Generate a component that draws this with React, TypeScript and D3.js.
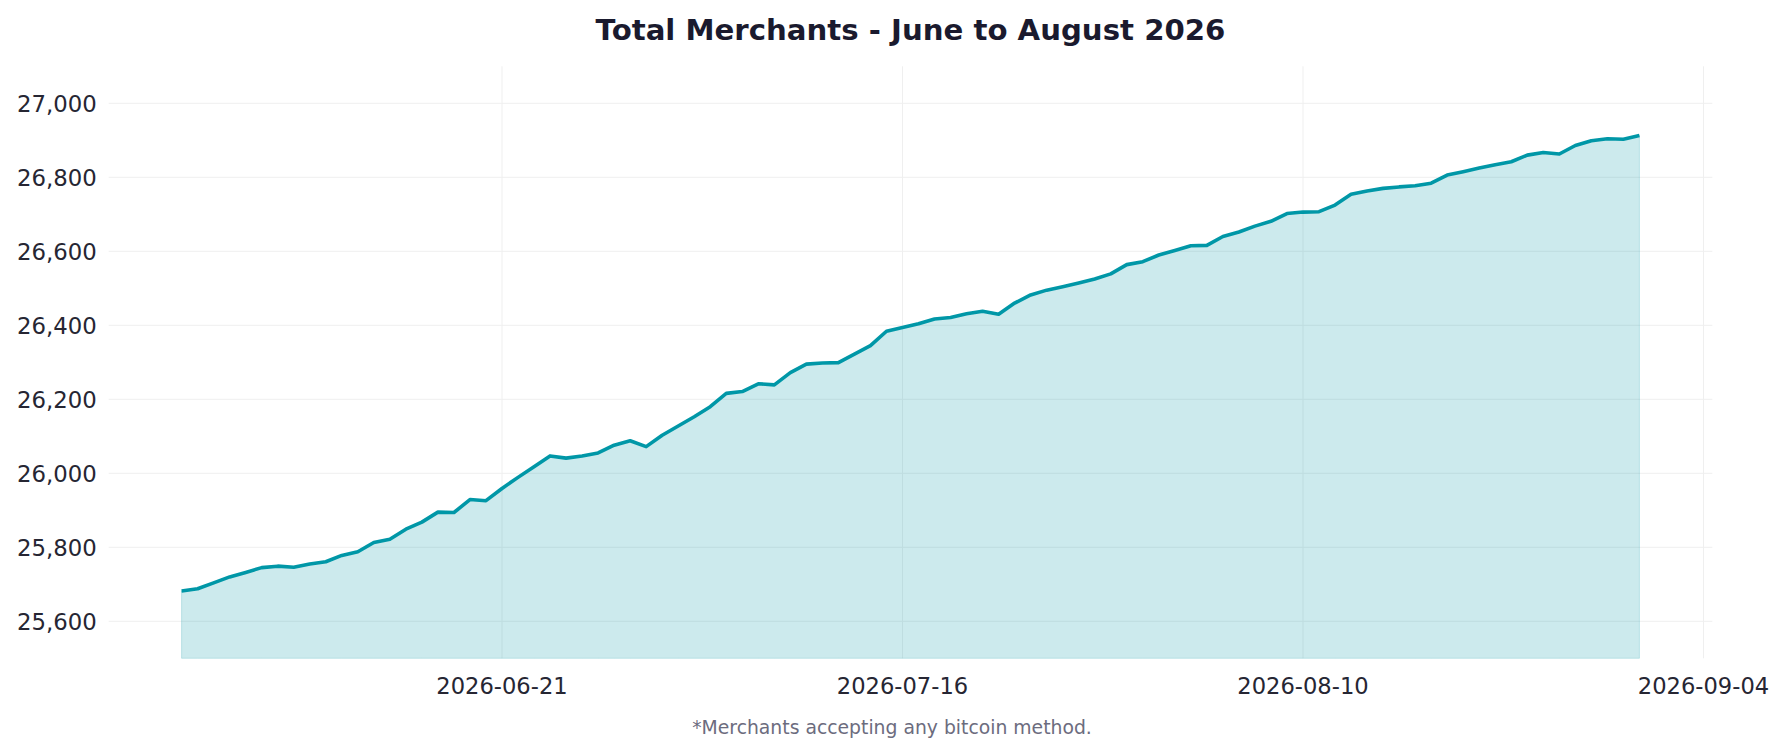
import React, { useEffect, useRef } from 'react';
import * as d3 from 'd3';

// Daily totals, 2026-06-01 .. 2026-08-31
const startDate = '2026-06-01';
const merchants: number[] = [
  25682, 25688, 25704, 25720, 25732, 25745, 25749, 25746, 25755, 25761,
  25778, 25788, 25813, 25822, 25849, 25868, 25895, 25894, 25929, 25926,
  25959, 25989, 26018, 26047, 26041, 26047, 26055, 26076, 26088, 26072,
  26103, 26128, 26153, 26180, 26216, 26221, 26242, 26239, 26272, 26295,
  26298, 26299, 26322, 26345, 26384, 26394, 26404, 26417, 26421, 26431,
  26438, 26430, 26460, 26482, 26495, 26504, 26514, 26525, 26539, 26564,
  26572, 26590, 26602, 26615, 26616, 26640, 26652, 26668, 26681, 26702,
  26706, 26707, 26725, 26754, 26763, 26770, 26774, 26777, 26784, 26806,
  26815, 26825, 26834, 26842, 26860, 26867, 26863, 26886, 26899, 26904,
  26903, 26913,
];
const xTickDates = ['2026-06-21', '2026-07-16', '2026-08-10', '2026-09-04'];
const yTicks = [25600, 25800, 26000, 26200, 26400, 26600, 26800, 27000];
const yDomain: [number, number] = [25500, 27100];

const title = 'Total Merchants - June to August 2026';
const footnote = '*Merchants accepting any bitcoin method.';

const WIDTH = 1784;
const HEIGHT = 753;
const FONT = '"DejaVu Sans", Verdana, sans-serif';

interface Point {
  date: Date;
  value: number;
}

const App: React.FC = () => {
  const svgRef = useRef<SVGSVGElement>(null);

  useEffect(() => {
    if (!svgRef.current) return;
    const svg = d3.select(svgRef.current);
    svg.selectAll('*').remove();

    const parse = d3.utcParse('%Y-%m-%d');
    const t0 = parse(startDate)!;
    const data: Point[] = merchants.map((v, i) => ({ date: d3.utcDay.offset(t0, i), value: v }));

    const left = 108.7;
    const right = 1712.3;
    const top = 66.3;
    const bottom = 658.3;

    // matplotlib-style 5% margin on the date axis
    const first = data[0].date;
    const last = data[data.length - 1].date;
    const span = last.getTime() - first.getTime();
    const x = d3.scaleUtc()
      .domain([new Date(first.getTime() - span * 0.05), new Date(last.getTime() + span * 0.05)])
      .range([left, right]);
    const y = d3.scaleLinear().domain(yDomain).range([bottom, top]);

    const g = svg.append('g');

    // grid
    g.selectAll('line.hgrid')
      .data(yTicks)
      .join('line')
      .attr('class', 'hgrid')
      .attr('x1', left).attr('x2', right)
      .attr('y1', d => y(d)).attr('y2', d => y(d))
      .attr('stroke', '#efefef')
      .attr('stroke-width', 1);

    const xTicks = xTickDates.map(s => parse(s)!);
    g.selectAll('line.vgrid')
      .data(xTicks)
      .join('line')
      .attr('class', 'vgrid')
      .attr('x1', d => x(d)).attr('x2', d => x(d))
      .attr('y1', top).attr('y2', bottom)
      .attr('stroke', '#efefef')
      .attr('stroke-width', 1);

    // area + line
    const area = d3.area<Point>()
      .x(d => x(d.date))
      .y0(y(yDomain[0]))
      .y1(d => y(d.value));
    g.append('path')
      .datum(data)
      .attr('d', area)
      .attr('fill', 'rgba(0,151,167,0.2)')
      .attr('stroke', 'rgba(0,151,167,0.2)')
      .attr('stroke-width', 1);

    const line = d3.line<Point>()
      .x(d => x(d.date))
      .y(d => y(d.value));
    g.append('path')
      .datum(data)
      .attr('d', line)
      .attr('fill', 'none')
      .attr('stroke', '#0097a7')
      .attr('stroke-width', 3.6)
      .attr('stroke-linejoin', 'round')
      .attr('stroke-linecap', 'butt');

    // y tick labels
    const fmt = d3.format(',');
    g.selectAll('text.ytick')
      .data(yTicks)
      .join('text')
      .attr('class', 'ytick')
      .attr('x', left - 12)
      .attr('y', d => y(d))
      .attr('dy', '0.36em')
      .attr('text-anchor', 'end')
      .attr('font-family', FONT)
      .attr('font-size', 22.8)
      .attr('fill', '#262633')
      .text(d => fmt(d));

    // x tick labels
    const fmtDate = d3.utcFormat('%Y-%m-%d');
    g.selectAll('text.xtick')
      .data(xTicks)
      .join('text')
      .attr('class', 'xtick')
      .attr('x', d => x(d))
      .attr('y', 694)
      .attr('text-anchor', 'middle')
      .attr('font-family', FONT)
      .attr('font-size', 22.6)
      .attr('fill', '#262633')
      .text(d => fmtDate(d));

    // title and footnote
    svg.append('text')
      .attr('x', (left + right) / 2)
      .attr('y', 39.5)
      .attr('text-anchor', 'middle')
      .attr('font-family', FONT)
      .attr('font-weight', 'bold')
      .attr('font-size', 29.2)
      .attr('fill', '#1a1a2e')
      .text(title);

    svg.append('text')
      .attr('x', WIDTH / 2)
      .attr('y', 734)
      .attr('text-anchor', 'middle')
      .attr('font-family', FONT)
      .attr('font-size', 18.8)
      .attr('fill', '#6c6c7e')
      .text(footnote);
  }, []);

  return (
    <svg
      ref={svgRef}
      width={WIDTH}
      height={HEIGHT}
      style={{ position: 'absolute', left: 0, top: 0, background: '#ffffff' }}
    />
  );
};

export default App;
